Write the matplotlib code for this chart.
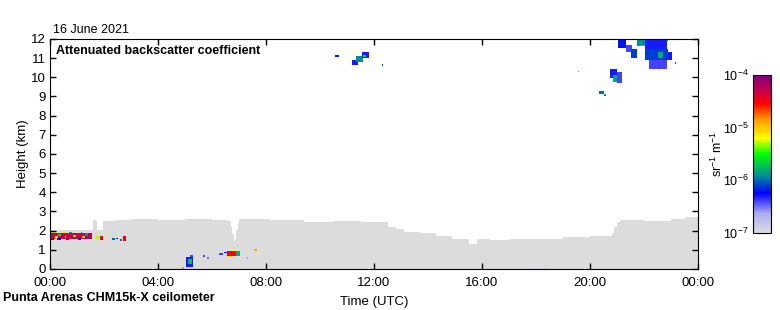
import matplotlib
matplotlib.use("Agg")
import matplotlib.pyplot as plt
import numpy as np
from matplotlib.colors import LinearSegmentedColormap, LogNorm

matplotlib.rcParams.update({
    'font.family': ['Liberation Sans', 'DejaVu Sans'],
    'font.size': 9,
    'mathtext.fontset': 'custom',
    'mathtext.rm': 'Liberation Sans',
    'mathtext.it': 'Liberation Sans',
})

# top of the grey (weak signal) region, step function: start hour -> height (km)
grey_t = [0, 1.6, 1.75, 1.95, 2.4, 3.0, 4.0, 5.0, 6.0, 6.6, 6.7, 6.75, 6.8,
          6.85, 6.9, 6.95, 7.0, 7.5, 8.15, 9.4, 10.5, 11.5, 12.5, 12.8, 13.1,
          13.7, 14.3, 14.9, 15.5, 15.8, 16.3, 17.0, 18.0, 19.0, 20.0, 20.8,
          20.9, 21.0, 21.1, 22.0, 23.0, 23.5]
grey_h = [2.05, 2.55, 2.05, 2.5, 2.55, 2.6, 2.55, 2.6, 2.55, 2.5, 2.2, 1.8,
          1.45, 1.6, 2.0, 2.4, 2.6, 2.6, 2.55, 2.45, 2.5, 2.45, 2.2, 2.1, 1.95,
          1.85, 1.7, 1.6, 1.3, 1.6, 1.5, 1.55, 1.6, 1.65, 1.7, 1.9, 2.2, 2.45,
          2.55, 2.5, 2.6, 2.7]

# cloud / aerosol features: (hour start, hour end, height bottom, height top, log10 beta)
features = [
    # low layer 00-03 UTC
    (0.00, 1.55, 1.58, 1.90, -4.3),
    (0.00, 0.20, 1.90, 1.97, -5.3),
    (0.05, 0.15, 1.52, 1.60, -6.2),
    (0.20, 0.28, 1.60, 1.70, -5.1),
    (0.25, 0.40, 1.52, 1.62, -6.2),
    (0.30, 0.38, 1.70, 1.80, -5.6),
    (0.45, 0.55, 1.88, 1.95, -5.1),
    (0.55, 0.62, 1.62, 1.72, -4.9),
    (0.62, 0.70, 1.52, 1.60, -6.3),
    (0.70, 0.78, 1.88, 1.96, -5.8),
    (0.85, 0.95, 1.66, 1.78, -5.4),
    (1.05, 1.15, 1.50, 1.62, -6.3),
    (1.15, 1.22, 1.88, 1.96, -5.8),
    (1.22, 1.30, 1.62, 1.72, -5.0),
    (1.30, 1.40, 1.74, 1.88, -5.9),
    (1.40, 1.48, 1.55, 1.64, -6.1),
    (1.65, 1.80, 1.55, 1.70, -5.3),
    (1.85, 1.95, 1.50, 1.72, -4.5),
    (2.30, 2.40, 1.52, 1.62, -6.0),
    (2.45, 2.52, 1.55, 1.62, -6.3),
    (2.58, 2.65, 1.45, 1.55, -6.4),
    (2.70, 2.78, 1.45, 1.70, -4.4),
    # boundary layer 05-08 UTC
    (4.90, 4.97, 0.00, 0.08, -6.6),
    (5.05, 5.30, 0.10, 0.60, -6.3),
    (5.12, 5.25, 0.25, 0.50, -5.7),
    (5.20, 5.30, 0.60, 0.75, -6.4),
    (5.65, 5.75, 0.60, 0.75, -6.4),
    (5.80, 5.90, 0.50, 0.60, -6.5),
    (6.25, 6.40, 0.75, 0.85, -6.4),
    (6.45, 6.55, 0.80, 0.90, -6.2),
    (6.55, 6.90, 0.65, 0.95, -4.5),
    (6.60, 6.75, 0.60, 0.70, -5.1),
    (6.75, 6.85, 0.95, 1.05, -5.2),
    (6.90, 7.05, 0.70, 0.95, -5.8),
    (7.30, 7.35, 0.55, 0.60, -6.6),
    (7.55, 7.63, 0.95, 1.05, -4.9),
    (17.7, 18.4, 0.00, 0.06, -6.9),
    # cirrus
    (10.55, 10.68, 11.05, 11.20, -6.3),
    (11.20, 11.40, 10.65, 10.90, -6.3),
    (11.35, 11.60, 10.80, 11.10, -5.9),
    (11.55, 11.80, 11.00, 11.30, -6.3),
    (11.60, 11.70, 11.05, 11.15, -5.6),
    (12.30, 12.36, 10.60, 10.70, -6.1),
    (19.55, 19.62, 10.25, 10.35, -5.6),
    (20.37, 20.48, 9.15, 9.30, -6.0),
    (20.48, 20.60, 9.00, 9.15, -5.9),
    (20.75, 21.00, 10.00, 10.45, -6.3),
    (20.85, 21.05, 9.75, 10.15, -5.8),
    (21.00, 21.20, 9.70, 10.30, -6.4),
    (21.05, 21.35, 11.55, 12.00, -6.2),
    (21.35, 21.55, 11.30, 11.70, -6.4),
    (21.50, 21.75, 11.00, 11.45, -6.1),
    (21.75, 22.05, 11.60, 12.00, -5.9),
    (21.80, 22.20, 11.62, 11.70, -5.6),
    (22.05, 22.85, 11.50, 11.95, -6.3),
    (22.05, 22.90, 10.90, 11.50, -6.1),
    (22.20, 22.85, 10.40, 10.90, -6.4),
    (22.50, 22.70, 11.00, 11.30, -5.8),
    (22.80, 22.90, 11.90, 12.00, -6.0),
    (22.90, 23.05, 10.90, 11.35, -6.3),
    (23.15, 23.22, 10.70, 10.80, -6.4),
]

# grid
t_edges = np.arange(0, 24.001, 0.05)
h_edges = np.arange(0, 12.001, 0.03)
tc = 0.5 * (t_edges[1:] + t_edges[:-1])
hc = 0.5 * (h_edges[1:] + h_edges[:-1])
T, H = np.meshgrid(tc, hc)

beta = np.full(T.shape, np.nan)
idx = np.searchsorted(grey_t, tc, side='right') - 1
top = np.array(grey_h)[idx]
beta[H < top[np.newaxis, :]] = 5e-8
for t0, t1, h0, h1, lv in features:
    m = (T >= t0) & (T < t1) & (H >= h0) & (H < h1)
    beta[m] = 10.0 ** lv

cmap = LinearSegmentedColormap.from_list('ceilo', [
    (0.00, (0.86, 0.86, 0.89)),
    (0.12, (0.68, 0.68, 0.95)),
    (0.25, (0.0, 0.0, 1.0)),
    (0.36, (0.0, 0.55, 0.6)),
    (0.50, (0.0, 1.0, 0.0)),
    (0.60, (1.0, 1.0, 0.0)),
    (0.72, (1.0, 0.6, 0.0)),
    (0.82, (1.0, 0.0, 0.0)),
    (0.91, (0.75, 0.0, 0.3)),
    (1.00, (0.5, 0.0, 0.5)),
])
cmap.set_under('#dcdcdc')
cmap.set_bad('white')

fig = plt.figure(figsize=(7.8, 3.1), dpi=100)
ax = fig.add_axes([0.0641, 0.1323, 0.8308, 0.7419])
mesh = ax.pcolormesh(t_edges, h_edges, np.ma.masked_invalid(beta), cmap=cmap,
                     norm=LogNorm(vmin=1e-7, vmax=1e-4))

ax.set_xlim(0, 24)
ax.set_ylim(0, 12)
ax.set_xticks(np.arange(0, 25, 4))
ax.set_xticklabels(['00:00', '04:00', '08:00', '12:00', '16:00', '20:00', '00:00'])
ax.set_yticks(np.arange(0, 13, 1))
ax.tick_params(direction='in', top=True, right=True, length=4, width=1,
               labelsize=9.5)
ax.tick_params(axis='x', pad=6)
ax.tick_params(axis='y', pad=3)
ax.set_xlabel('Time (UTC)', fontsize=9.5, labelpad=5)
ax.set_ylabel('Height (km)', fontsize=9.5)
ax.yaxis.set_label_coords(-0.033, 0.5)
ax.text(0.01, 0.975, 'Attenuated backscatter coefficient', transform=ax.transAxes,
        fontsize=9, fontweight='bold', va='top', ha='left')
fig.text(0.068, 1 - 33 / 310, '16 June 2021', fontsize=9, ha='left',
         va='baseline')
fig.text(0.004, 0.038, 'Punta Arenas CHM15k-X ceilometer', fontsize=9,
         fontweight='bold', ha='left', va='center')

cax = fig.add_axes([0.9654, 0.2484, 0.0231, 0.5097])
cb = fig.colorbar(mesh, cax=cax)
cb.set_ticks([1e-7, 1e-6, 1e-5, 1e-4])
cb.set_ticklabels(['$10^{-7}$', '$10^{-6}$', '$10^{-5}$', '$10^{-4}$'])
cax.yaxis.set_ticks_position('left')
cax.yaxis.set_label_position('left')
cax.tick_params(length=0, labelsize=9, pad=3)
cax.minorticks_off()
cb.set_label('sr$^{-1}$ m$^{-1}$', fontsize=9)
cax.yaxis.set_label_coords(-1.55, 0.5)

fig.savefig('out.png', dpi=100)
